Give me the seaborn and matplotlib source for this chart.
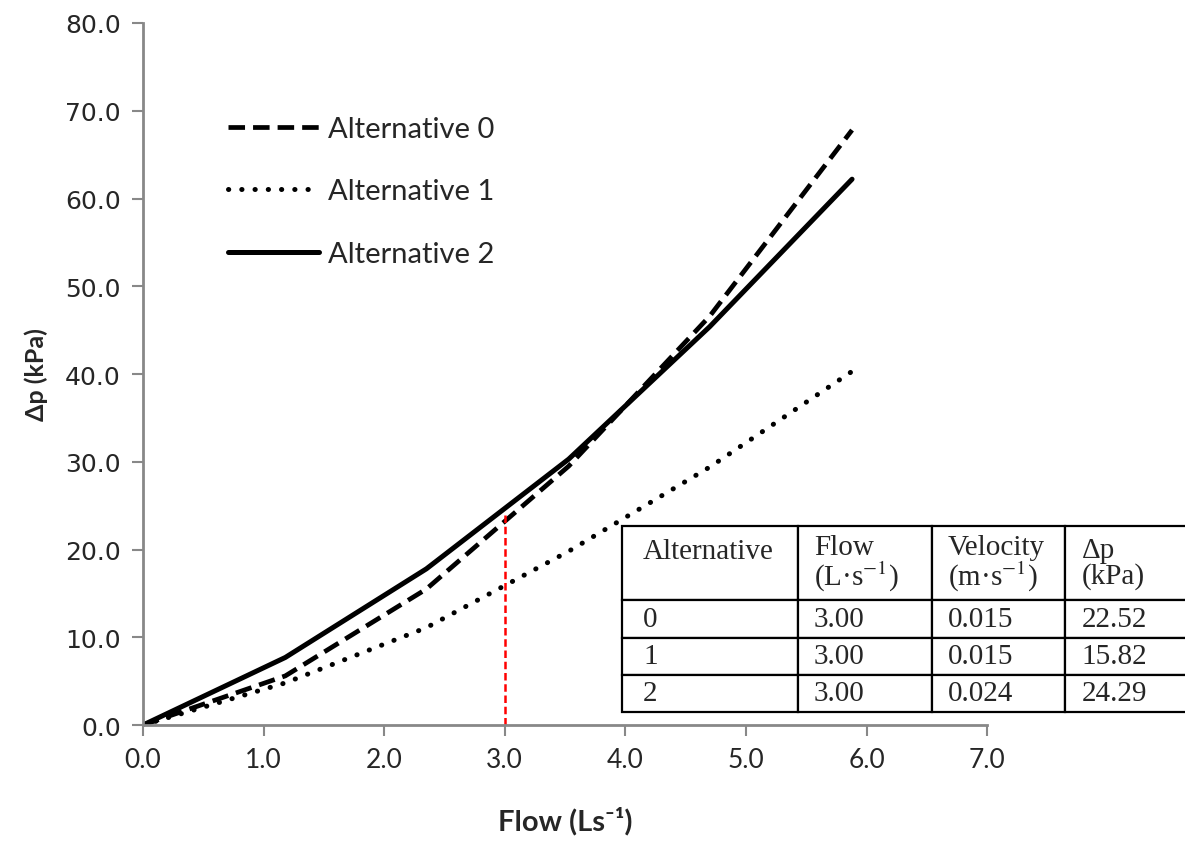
import numpy as np
import pandas as pd
import matplotlib
matplotlib.use('Agg')
import matplotlib.pyplot as plt
import seaborn as sns

sns.set_theme(style='white')
plt.rcParams['font.family'] = ['Lato', 'DejaVu Sans']
plt.rcParams['mathtext.fontset'] = 'stix'

# data
flow = [0.0, 1.18, 2.35, 3.53, 4.70, 5.88]
alt0 = [0.0, 5.6, 15.5, 29.5, 46.6, 67.8]
alt1 = [0.0, 4.8, 11.1, 19.8, 29.4, 40.3]
alt2 = [0.0, 7.7, 17.8, 30.3, 45.4, 62.2]

sel_flow = 3.0
sel_dp = 24.29

# blank second line keeps "Alternative" on the top line like the others
tab_header = ['Alternative\n ', 'Flow\n(L·s$^{-1}$)', 'Velocity\n(m·s$^{-1}$)', 'Δp\n(kPa)']
tab_alt = ['0', '1', '2']
tab_flow = ['3.00', '3.00', '3.00']
tab_vel = ['0.015', '0.015', '0.024']
tab_dp = ['22.52', '15.82', '24.29']

fig = plt.figure(figsize=(11.85, 8.45), dpi=100)
ax = fig.add_axes([0.1207, 0.1408, 0.7123, 0.8308])

sns.lineplot(x=flow, y=alt0, ax=ax, color='black', lw=3.4, linestyle=(0, (3.5, 1.7)),
             label='Alternative 0')
sns.lineplot(x=flow, y=alt1, ax=ax, color='black', lw=3.6, linestyle=(0, (0.05, 2.6)),
             dash_capstyle='round', label='Alternative 1')
sns.lineplot(x=flow, y=alt2, ax=ax, color='black', lw=3.6, label='Alternative 2')
ax.plot([sel_flow, sel_flow], [0, sel_dp], color='red', lw=1.8, linestyle=(0, (3, 1.5)))

ax.set_xlim(0, 7)
ax.set_ylim(0, 80)
ax.set_xticks(np.arange(0, 7.1, 1))
ax.set_yticks(np.arange(0, 80.1, 10))
ax.set_xticklabels([f'{v:.1f}' for v in np.arange(0, 7.1, 1)], fontsize=19)
ax.set_yticklabels([f'{v:.1f}' for v in np.arange(0, 80.1, 10)], fontsize=18,
                   family='DejaVu Sans')
ax.tick_params(axis='both', direction='out', length=8, width=1.5, color='#888888',
               bottom=True, left=True)
ax.tick_params(axis='x', pad=8)
ax.tick_params(axis='y', pad=8)
sns.despine(ax=ax)
for s in ['left', 'bottom']:
    ax.spines[s].set_color('#888888')
    ax.spines[s].set_linewidth(2)

ax.set_xlabel('Flow (Ls⁻¹)', fontsize=21, fontweight='bold', labelpad=24)
ax.set_ylabel('Δp (kPa)', fontsize=18, fontweight='bold', labelpad=12)

leg = ax.legend(loc='upper left', bbox_to_anchor=(0.07, 0.905), frameon=False,
                fontsize=21, handlelength=3.1, handletextpad=0.3, labelspacing=1.25)

tbl = ax.table(cellText=[list(r) for r in zip(tab_alt, tab_flow, tab_vel, tab_dp)],
               colLabels=tab_header, cellLoc='left', colLoc='left',
               colWidths=[176, 134, 133, 140],
               bbox=[0.5675, 0.0185, 0.69, 0.265])
tbl.auto_set_font_size(False)
for (r, c), cell in tbl.get_celld().items():
    cell.set_linewidth(1.6)
    cell.set_edgecolor('black')
    cell.set_height(2.0 if r == 0 else 1.0)
    cell.PAD = 0.12
    cell.get_text().set_fontsize(21)
    cell.get_text().set_family('Liberation Serif')
    cell.get_text().set_linespacing(0.95)
tbl.set_clip_on(False)

fig.savefig('out.png', dpi=100)
